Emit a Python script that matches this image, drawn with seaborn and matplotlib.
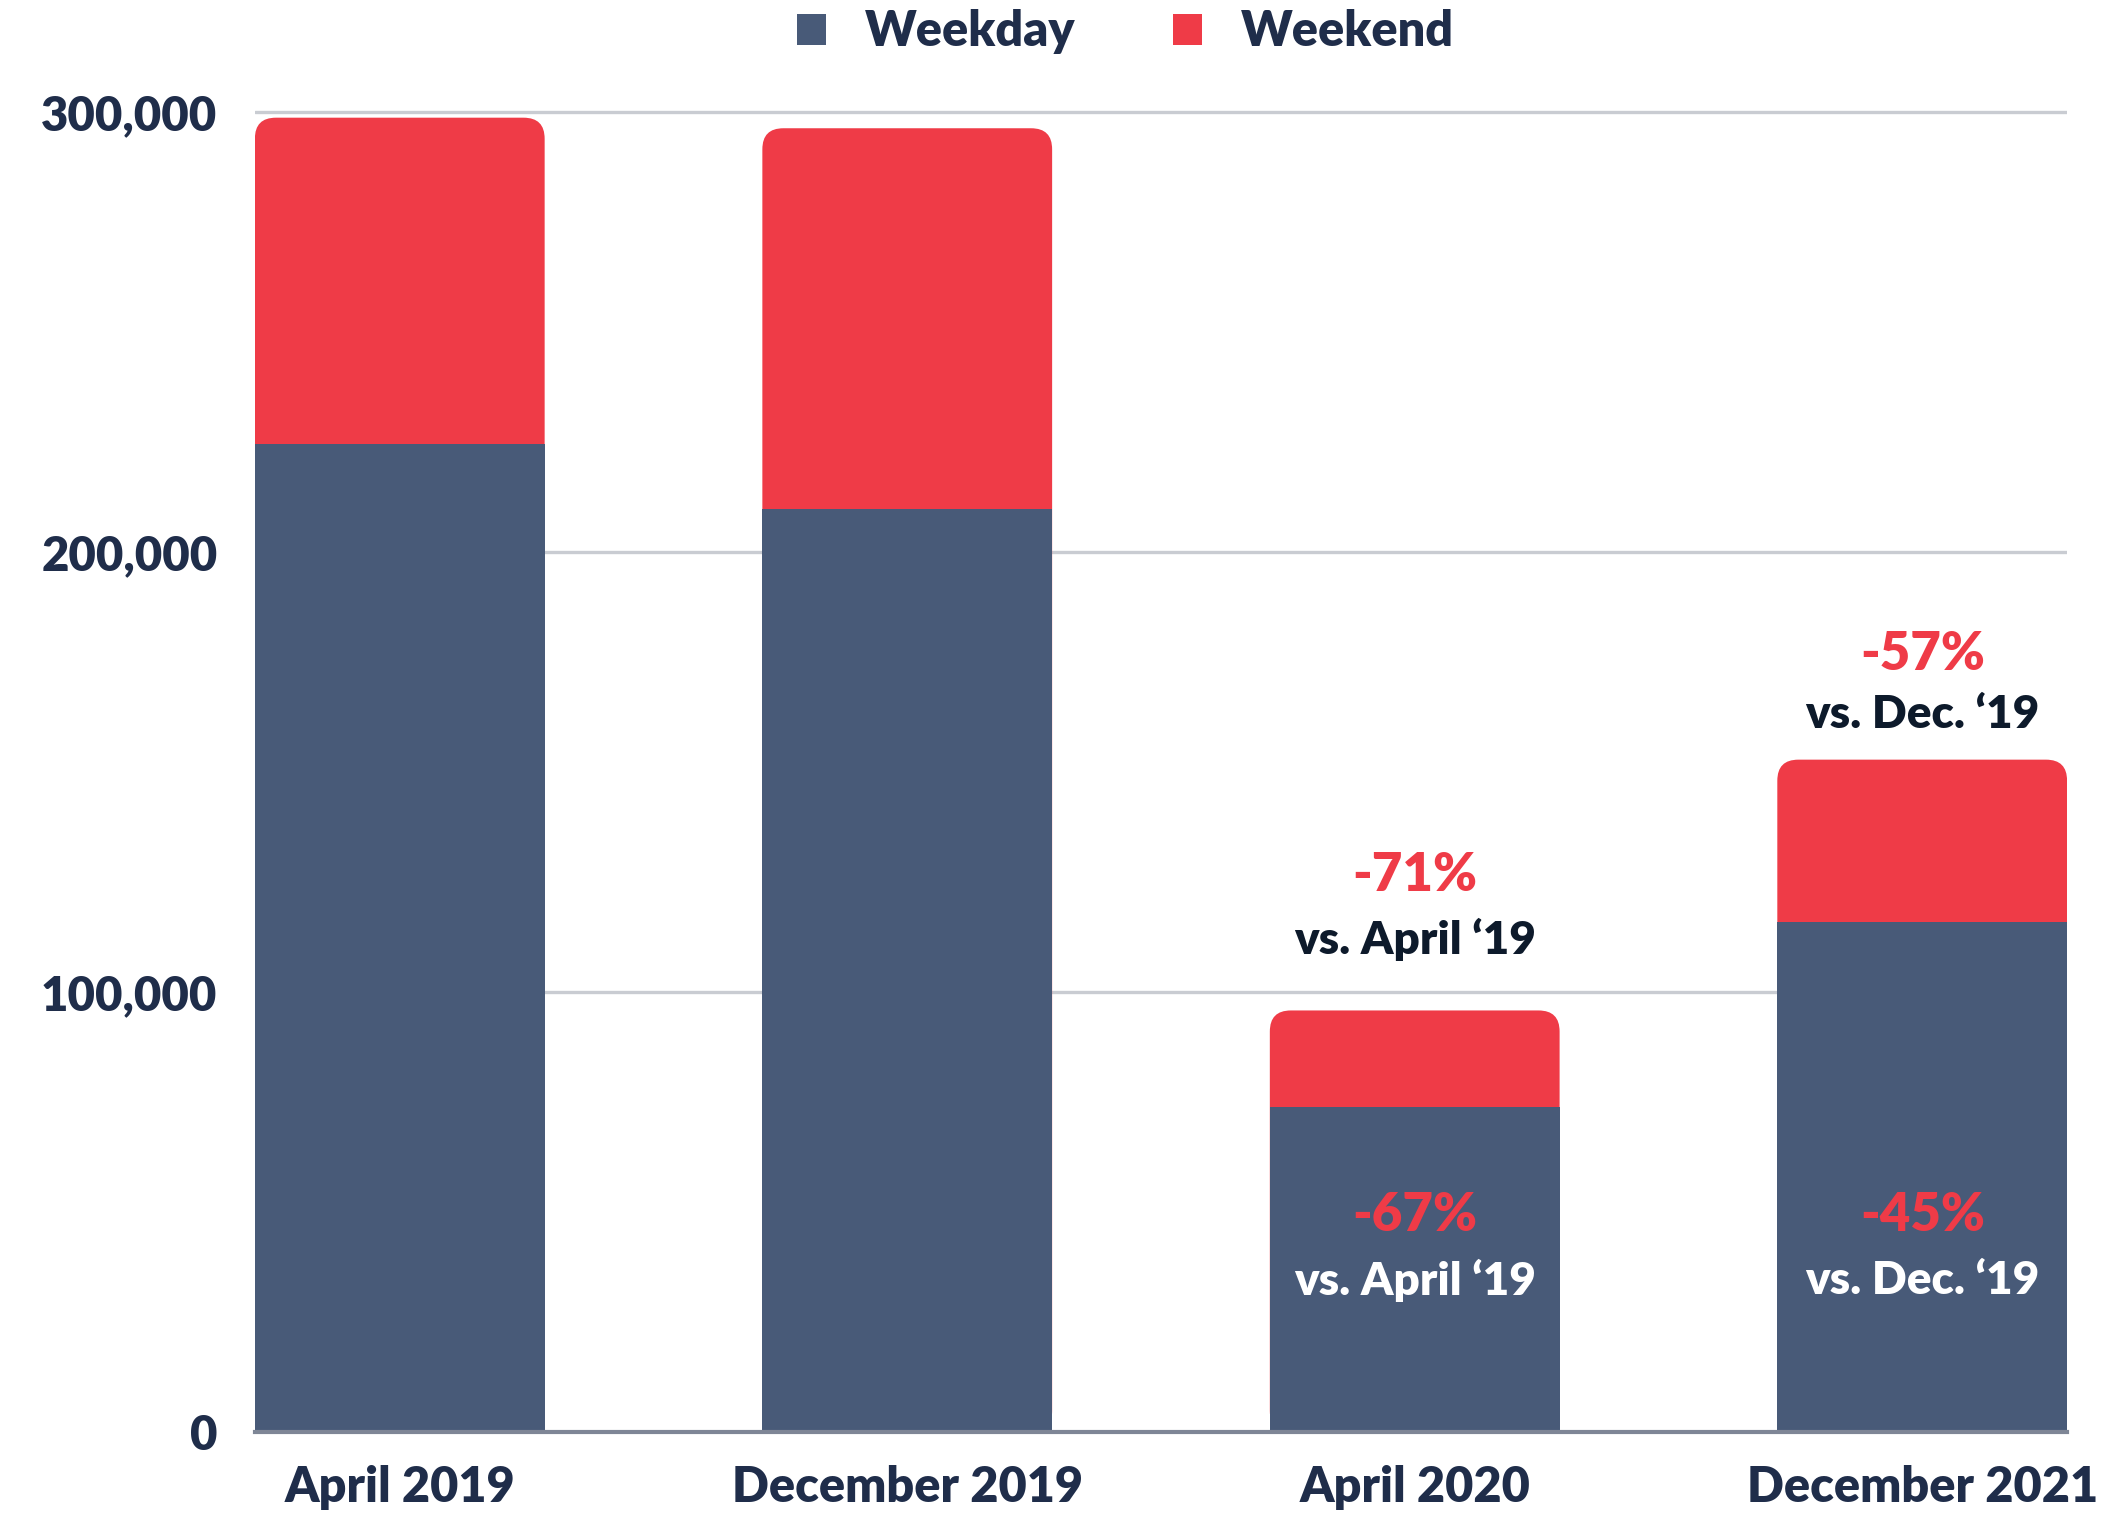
import matplotlib
matplotlib.use("Agg")
import matplotlib.pyplot as plt
import seaborn as sns
from matplotlib.patches import FancyBboxPatch, Patch

# Datos
months = ["April 2019", "December 2019", "April 2020", "December 2021"]
weekday = [224500, 209700, 73900, 115800]
weekend = [74200, 86600, 21900, 37000]
y_ticks = [0, 100000, 200000, 300000]

# Notas: índice de la barra -> (porcentaje, comparación, altura del porcentaje, altura de la comparación)
weekend_notes = {2: ("-71%", "vs. April \u201819", 126400, 112000),
                 3: ("-57%", "vs. Dec. \u201819", 176800, 163000)}
weekday_notes = {2: ("-67%", "vs. April \u201819", 49100, 34500),
                 3: ("-45%", "vs. Dec. \u201819", 49100, 34500)}

NAVY = "#1F2D4A"
WEEKDAY_COL = "#485A78"
WEEKEND_COL = "#EF3B47"
GRID_COL = "#C9CCD2"
BAR_W = 0.571

sns.set_style("white")
plt.rcParams["font.family"] = ["Lato", "DejaVu Sans"]

fig = plt.figure(figsize=(21.24, 15.15), dpi=100)
ax = fig.add_axes([0.12, 0.0548, 0.8532, 0.8742])

totals = [a + b for a, b in zip(weekday, weekend)]

# Total (fin de semana arriba) con esquinas redondeadas
sns.barplot(x=months, y=totals, color=WEEKEND_COL, width=BAR_W, saturation=1, ax=ax)
n_first = len(ax.patches)

ax.set_xlim(-BAR_W / 2, len(months) - 1 + BAR_W / 2)
ax.set_ylim(0, 301000)
fig.canvas.draw()
p0 = ax.transData.transform((0, 0))
p1 = ax.transData.transform((1, 100000))
px_x = p1[0] - p0[0]            # píxeles por unidad x
px_y = (p1[1] - p0[1]) / 100000  # píxeles por unidad y
radius_px = 21
r_x = radius_px / px_x
aspect = (radius_px / px_y) / r_x

for p in list(ax.patches[:n_first]):
    x, w, h = p.get_x(), p.get_width(), p.get_height()
    p.remove()
    ax.add_patch(FancyBboxPatch((x, 0), w, h,
                                boxstyle=f"round,pad=0,rounding_size={r_x}",
                                mutation_aspect=aspect, fc=WEEKEND_COL,
                                ec="none", zorder=2))

# Días laborables encima
sns.barplot(x=months, y=weekday, color=WEEKDAY_COL, width=BAR_W, saturation=1, ax=ax)
for p in ax.patches:
    if not isinstance(p, FancyBboxPatch):
        p.set_zorder(3)
        p.set_edgecolor("none")

ax.set_xlim(-BAR_W / 2, len(months) - 1 + BAR_W / 2)
ax.set_ylim(0, 301000)

# Ejes y rejilla
ax.set_yticks(y_ticks)
ax.set_yticklabels([f"{v:,}" for v in y_ticks])
ax.yaxis.grid(True, color=GRID_COL, lw=2.4)
ax.set_axisbelow(True)
for s in ["top", "right", "left"]:
    ax.spines[s].set_visible(False)
ax.spines["bottom"].set_color("#7E8696")
ax.spines["bottom"].set_linewidth(3)
ax.spines["bottom"].set_zorder(4)
ax.tick_params(axis="y", length=0, pad=27, labelsize=34, labelcolor=NAVY)
ax.tick_params(axis="x", length=0, pad=24, labelsize=35, labelcolor=NAVY)
for lab in ax.get_xticklabels() + ax.get_yticklabels():
    lab.set_fontweight("heavy")
ax.set_xlabel("")
ax.set_ylabel("")

# Anotaciones
for i, (pct, cmp_, y_pct, y_cmp) in weekend_notes.items():
    ax.text(i, y_pct, pct, ha="center", va="center", color=WEEKEND_COL,
            fontsize=38, fontweight="heavy", zorder=5)
    ax.text(i, y_cmp, cmp_, ha="center", va="center", color="#0D1A2B",
            fontsize=33, fontweight="heavy", zorder=5)
for i, (pct, cmp_, y_pct, y_cmp) in weekday_notes.items():
    ax.text(i, y_pct, pct, ha="center", va="center", color=WEEKEND_COL,
            fontsize=38, fontweight="heavy", zorder=5)
    ax.text(i, y_cmp, cmp_, ha="center", va="center", color="white",
            fontsize=33, fontweight="heavy", zorder=5)

# Leyenda
handles = [Patch(fc=WEEKDAY_COL, ec="none"), Patch(fc=WEEKEND_COL, ec="none")]
leg = fig.legend(handles, ["Weekday", "Weekend"], loc="center",
                 bbox_to_anchor=(0.53, 0.979), ncol=2, frameon=False,
                 fontsize=35, handlelength=0.6, handleheight=0.6,
                 handletextpad=0.8, columnspacing=2.0)
for t in leg.get_texts():
    t.set_color(NAVY)
    t.set_fontweight("heavy")

fig.savefig("out.png", dpi=100)
